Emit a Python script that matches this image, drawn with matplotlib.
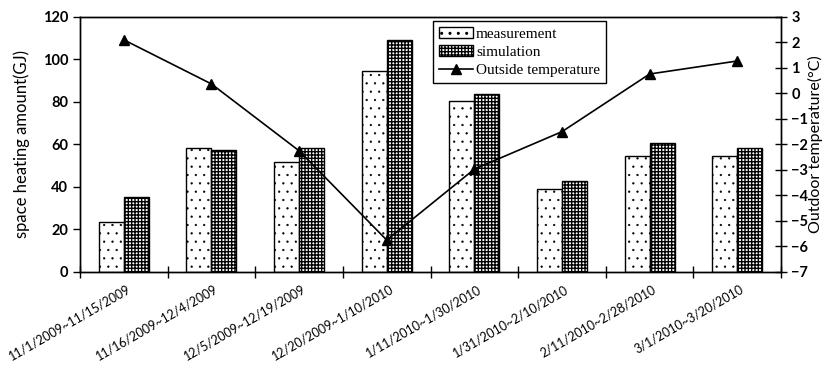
import matplotlib.pyplot as plt
import numpy as np
from matplotlib.patches import Patch
from matplotlib.lines import Line2D

# periods
periods = ['11/1/2009~11/15/2009', '11/16/2009~12/4/2009', '12/5/2009~12/19/2009',
           '12/20/2009~1/10/2010', '1/11/2010~1/30/2010', '1/31/2010~2/10/2010',
           '2/11/2010~2/28/2010', '3/1/2010~3/20/2010']
# space heating amount (GJ)
measurement = [23.5, 58.4, 51.8, 94.5, 80.5, 39, 54.5, 54.5]
simulation = [35.3, 57.4, 58.4, 109, 83.5, 43, 60.8, 58.5]
# outside temperature (C)
temperature = [2.1, 0.37, -2.25, -5.75, -2.97, -1.5, 0.76, 1.27]

sans = 'Lato'
x = np.arange(len(periods))
w = 0.285

fig = plt.figure(figsize=(8.3, 3.67), dpi=100)
ax = fig.add_axes([0.0964, 0.259, 0.8446, 0.695])

with plt.rc_context({'hatch.linewidth': 0.4}):
    ax.bar(x - w/2, measurement, w, color='white', edgecolor='black', hatch='..', linewidth=1.0)
ax.bar(x + w/2, simulation, w, color='white', edgecolor='black', hatch='+++++', linewidth=1.0)

ax.set_xlim(-0.5, len(periods) - 0.5)
ax.set_ylim(0, 120)
ax.set_yticks(np.arange(0, 121, 20))
ax.set_ylabel('space heating amount(GJ)', fontsize=12, family=sans)
ax.yaxis.set_label_coords(-0.072, 0.5)

# boundary ticks, labels in the middle
ax.set_xticks(np.arange(-0.5, len(periods), 1.0))
ax.set_xticklabels([])
ax.set_xticks(x + 0.03, minor=True)
ax.set_xticklabels(periods, minor=True, rotation=30, ha='right', va='top',
                   rotation_mode='anchor', fontsize=9, family=sans)
ax.tick_params(axis='x', which='major', direction='inout', length=8, width=1)
ax.tick_params(axis='x', which='minor', length=0, pad=8)
ax.tick_params(axis='y', direction='out', length=5, width=1)
for t in ax.get_yticklabels():
    t.set_fontsize(10.5)
    t.set_fontweight('bold')
    t.set_family(sans)

ax2 = ax.twinx()
ax2.plot(x, temperature, color='black', linewidth=1.2, marker='^', markersize=7)
ax2.set_ylim(-7, 3)
ax2.set_yticks(np.arange(-7, 4, 1))
ax2.tick_params(axis='y', direction='inout', length=8, width=1)
for t in ax2.get_yticklabels():
    t.set_fontsize(10.5)
    t.set_fontweight('bold')
    t.set_family(sans)
ax2.set_ylabel('Outdoor temperature(\u00b0C)', fontsize=11.5, family=sans)
ax2.yaxis.set_label_coords(1.038, 0.5)

for a in (ax, ax2):
    for s in a.spines.values():
        s.set_linewidth(1.0)

handles = [Patch(facecolor='white', edgecolor='black', hatch='..', label='measurement'),
           Patch(facecolor='white', edgecolor='black', hatch='+++++', label='simulation'),
           Line2D([], [], color='black', marker='^', markersize=7, linewidth=1.2,
                  label='Outside temperature')]
leg = ax2.legend(handles=handles, loc='upper left', bbox_to_anchor=(0.504, 0.984),
                 borderaxespad=0, fancybox=False, framealpha=1, edgecolor='black',
                 prop={'family': 'Liberation Serif', 'size': 11},
                 handlelength=2.2, handletextpad=0.2, labelspacing=0.3,
                 borderpad=0.4)
leg.get_frame().set_linewidth(1.0)

fig.savefig('out.png', dpi=100)
